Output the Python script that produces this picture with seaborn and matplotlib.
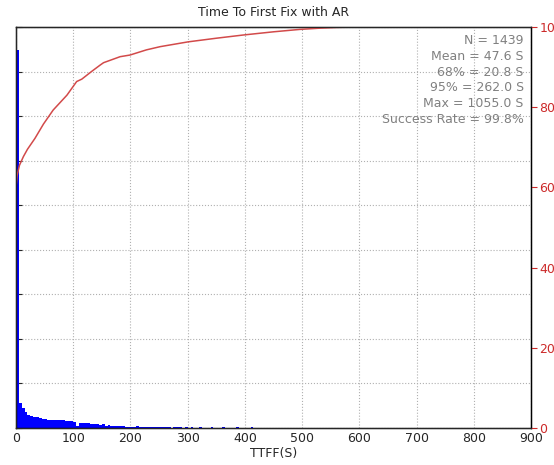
import numpy as np
import pandas as pd
import seaborn as sns
import matplotlib
matplotlib.use('Agg')
import matplotlib.pyplot as plt

# histogram counts, 5 s bins from 0 to 600 s
bin_width = 5
hist_counts = [
    848, 56, 45, 36, 30, 27, 25, 24, 22, 21,      # 0-50
    20, 19, 19, 18, 18, 17, 17, 16, 16, 15,       # 50-100
    14, 4, 11, 12, 12, 11, 10, 10, 9, 7,          # 100-150
    8, 5, 6, 4, 5, 4, 4, 5, 3, 3,                 # 150-200
    3, 3, 4, 2, 3, 3, 2, 3, 3, 3,                 # 200-250
    2, 2, 3, 2, 1, 2, 2, 2, 1, 2,                 # 250-300
    1, 2, 1, 1, 2, 1, 1, 1, 2, 1,                 # 300-350
    1, 1, 2, 1, 1, 1, 1, 2, 1, 1,                 # 350-400
    1, 1, 2, 1, 1, 1, 1, 1, 1, 1,                 # 400-450
    1, 1, 1, 1, 1, 1, 1, 1, 1, 1,                 # 450-500
    1, 0, 1, 1, 0, 1, 0, 1, 0, 1,                 # 500-550
    0, 0, 1, 0, 0, 0, 0, 0, 0, 0,                 # 550-600
]
# a few isolated late fixes
tail_times = [612, 622, 682, 765, 1055]

# cumulative percentage curve
cdf_time = [0, 2, 6, 13, 20, 33, 48, 65, 89, 106, 115, 132, 147, 153, 182,
            199, 228, 252, 301, 350, 397, 450, 496, 530, 560, 600, 900]
cdf_pct = [60, 63, 65.5, 67.7, 69.5, 72.2, 75.8, 79.3, 83, 86.4, 87, 88.9, 90.5,
           91.1, 92.6, 93, 94.3, 95.1, 96.3, 97.2, 98, 98.8, 99.4, 99.7, 99.9,
           100, 100]

stats_lines = ["N = 1439", "Mean = 47.6 S", "68% = 20.8 S", "95% = 262.0 S",
               "Max = 1055.0 S", "Success Rate = 99.8%"]

x_ticks = [0, 100, 200, 300, 400, 500, 600, 700, 800, 900]
pct_ticks = [0, 20, 40, 60, 80, 100]

sns.set_style('white')

centers = [i * bin_width + bin_width / 2 for i in range(len(hist_counts))]
hist_df = pd.DataFrame({
    'ttff': centers + tail_times,
    'count': hist_counts + [1] * len(tail_times),
})
cdf_df = pd.DataFrame({'ttff': cdf_time, 'pct': cdf_pct})

fig = plt.figure(figsize=(5.54, 4.65), dpi=100)
ax = fig.add_axes([16 / 554, 37 / 465, 515 / 554, 401 / 465])

sns.histplot(data=hist_df, x='ttff', weights='count', binwidth=bin_width,
             binrange=(0, 1060), color='blue', alpha=1, linewidth=0, ax=ax)
ax.set_xlim(0, 900)
ax.set_ylim(0, 900)
ax.set_xticks(x_ticks)
ax.set_yticks(np.arange(0, 901, 100))
ax.set_yticklabels([])
ax.set_ylabel('')
ax.set_xlabel('TTFF(S)', fontsize=9, labelpad=1)
ax.tick_params(axis='x', labelsize=9, direction='in', length=4, pad=3)
ax.tick_params(axis='y', direction='in', length=4)
ax.grid(True, linestyle=':', color='#b0b0b0', linewidth=0.8)
ax.set_title('Time To First Fix with AR', fontsize=9, pad=8)
for sp in ax.spines.values():
    sp.set_color('black')
    sp.set_linewidth(1)

ax2 = ax.twinx()
sns.lineplot(data=cdf_df, x='ttff', y='pct', color='#d24a4a', linewidth=1.1, ax=ax2)
ax2.set_ylim(0, 100)
ax2.set_xlim(0, 900)
ax2.set_yticks(pct_ticks)
ax2.set_ylabel('')
ax2.tick_params(axis='y', colors='#cc2a2a', labelsize=9, length=4, pad=2)
ax2.spines['right'].set_color('black')
ax2.grid(False)

ax.text(0.986, 0.982, "\n".join(stats_lines), transform=ax.transAxes,
        ha='right', va='top', color='gray', fontsize=9, linespacing=1.27,
        zorder=5)

fig.savefig('out.png', dpi=100)
